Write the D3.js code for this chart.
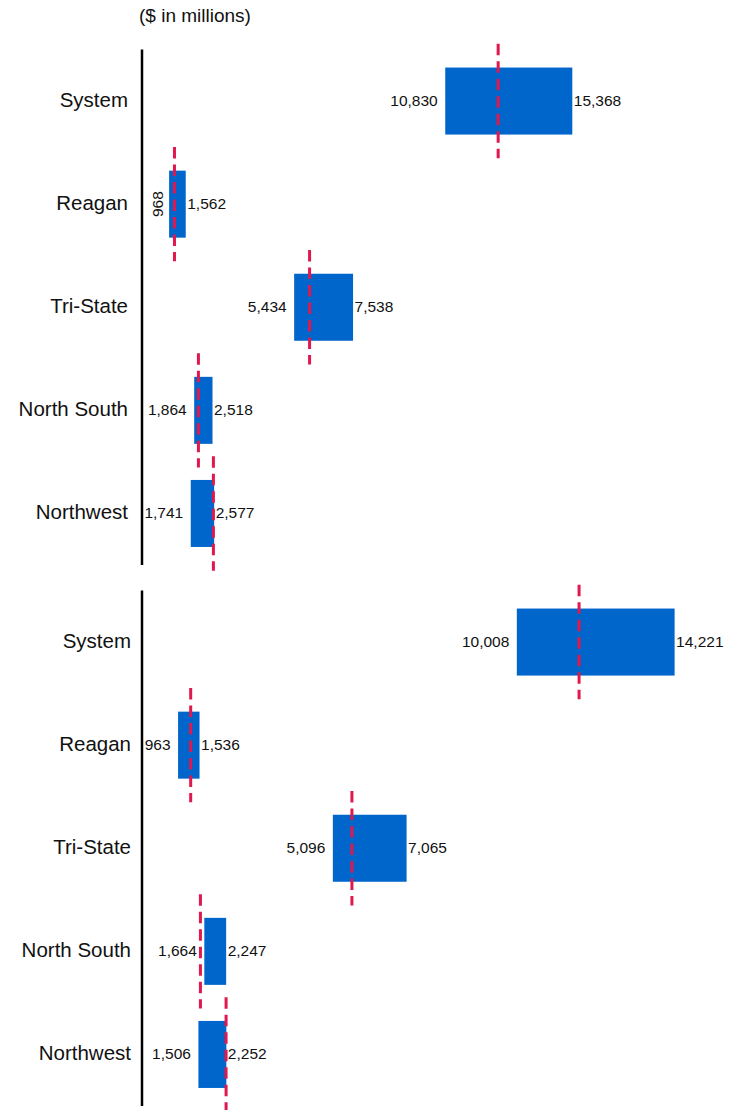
<!DOCTYPE html>
<html>
<head>
<meta charset="utf-8">
<script src="https://cdn.jsdelivr.net/npm/d3@7"></script>
<style>
  html, body { margin: 0; padding: 0; background: #fff; }
  svg { display: block; font-family: "Liberation Sans", Arial, sans-serif; }
</style>
</head>
<body>
<svg id="chart" width="730" height="1110"></svg>
<script>
// Regions shown in each panel, top to bottom
const categories = ["System", "Reagan", "Tri-State", "North South", "Northwest"];

// Upper panel: low / high range and reference marker ($ in millions)
const lowA  = [10830, 968, 5434, 1864, 1741];
const highA = [15368, 1562, 7538, 2518, 2577];
const refA  = [12720, 1160, 5985, 2015, 2550];

// Lower panel
const lowB  = [10008, 963, 5096, 1664, 1506];
const highB = [14221, 1536, 7065, 2247, 2252];
const refB  = [11670, 1300, 5605, 1560, 2245];

const unitsNote = "($ in millions)";

const svg = d3.select("#chart");
const fmt = d3.format(",");
const axisX = 142, rightX = 730;

svg.append("text")
  .attr("x", 139).attr("y", 22)
  .attr("font-size", 19).attr("fill", "#111")
  .text(unitsNote);

function rows(lo, hi, ref) {
  return categories.map((c, i) => ({ cat: c, lo: lo[i], hi: hi[i], ref: ref[i] }));
}

const panels = [
  { data: rows(lowA, highA, refA), top: 49.5, height: 515.5, xMax: 21000, labelGap: 14 },
  { data: rows(lowB, highB, refB), top: 590.5, height: 515.5, xMax: 15700, labelGap: 11 }
];

panels.forEach(p => {
  const g = svg.append("g");
  const x = d3.scaleLinear().domain([0, p.xMax]).range([axisX, rightX]);
  const y = d3.scaleBand().domain(categories)
    .range([p.top, p.top + p.height]).paddingInner(0.35).paddingOuter(0.175);
  const band = y.step();
  const mid = d => y(d.cat) + y.bandwidth() / 2;

  // category names
  g.selectAll("text.cat").data(p.data).join("text")
    .attr("class", "cat")
    .attr("x", axisX - p.labelGap)
    .attr("y", d => mid(d) - 1.5)
    .attr("text-anchor", "end")
    .attr("dominant-baseline", "central")
    .attr("font-size", 20.5).attr("fill", "#111")
    .text(d => d.cat);

  // range bars
  g.selectAll("rect.bar").data(p.data).join("rect")
    .attr("class", "bar")
    .attr("x", d => x(d.lo))
    .attr("width", d => x(d.hi) - x(d.lo))
    .attr("y", d => y(d.cat))
    .attr("height", y.bandwidth())
    .attr("fill", "#0066cc");

  // reference markers
  g.selectAll("line.ref").data(p.data).join("line")
    .attr("class", "ref")
    .attr("x1", d => x(d.ref)).attr("x2", d => x(d.ref))
    .attr("y1", d => mid(d) - band * 0.555)
    .attr("y2", d => mid(d) + band * 0.555)
    .attr("stroke", "#e0184d")
    .attr("stroke-width", 3)
    .attr("stroke-dasharray", "11.5,6");

  // high-end value labels
  g.selectAll("text.hi").data(p.data).join("text")
    .attr("class", "hi")
    .attr("x", d => x(d.hi) + 1.5)
    .attr("y", d => mid(d) - 1)
    .attr("dominant-baseline", "central")
    .attr("font-size", 15.5).attr("fill", "#111")
    .text(d => fmt(d.hi));

  // low-end value labels; turned upright when there is no room beside the axis
  g.selectAll("text.lo").data(p.data).join("text")
    .attr("class", "lo")
    .attr("font-size", 15.5).attr("fill", "#111")
    .text(d => fmt(d.lo))
    .each(function (d) {
      const t = d3.select(this);
      const w = this.getComputedTextLength();
      const cy = mid(d);
      if (x(d.lo) - 7.5 - w < axisX) {
        t.attr("text-anchor", "middle")
         .attr("transform", `translate(${x(d.lo) - 6},${cy}) rotate(-90)`);
      } else {
        t.attr("x", x(d.lo) - 7.5).attr("y", cy - 1)
         .attr("text-anchor", "end")
         .attr("dominant-baseline", "central");
      }
    });

  // category axis line
  g.append("line")
    .attr("x1", axisX).attr("x2", axisX)
    .attr("y1", p.top).attr("y2", p.top + p.height)
    .attr("stroke", "#000").attr("stroke-width", 2.5);
});
</script>
</body>
</html>
